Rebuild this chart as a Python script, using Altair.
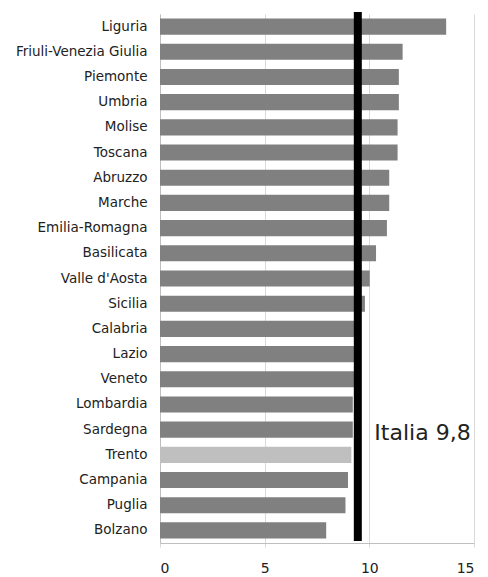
import altair as alt
import pandas as pd

regions = ["Liguria", "Friuli-Venezia Giulia", "Piemonte", "Umbria", "Molise", "Toscana",
           "Abruzzo", "Marche", "Emilia-Romagna", "Basilicata", "Valle d'Aosta", "Sicilia",
           "Calabria", "Lazio", "Veneto", "Lombardia", "Sardegna", "Trento", "Campania",
           "Puglia", "Bolzano"]
values = [13.67, 11.59, 11.41, 11.41, 11.35, 11.35, 10.95, 10.95, 10.84, 10.32, 10.02, 9.79,
          9.5, 9.45, 9.4, 9.21, 9.21, 9.14, 8.98, 8.86, 7.94]
highlight = ["Trento"]
italia_pos = 9.45
italia_label = "Italia 9,8"
x_ticks = [0, 5, 10, 15]

df = pd.DataFrame({
    "regione": regions,
    "valore": values,
    "tipo": ["evidenza" if r in highlight else "altro" for r in regions],
})

yscale = alt.Scale(domain=regions, paddingInner=0.36, paddingOuter=0.18)
xscale = alt.Scale(domain=[0, 15], nice=False)

bars = alt.Chart(df).mark_bar().encode(
    y=alt.Y("regione:N", scale=yscale, sort=regions, title=None,
            axis=alt.Axis(domain=True, domainColor="#bfbfbf", ticks=False, labelPadding=13,
                          labelFont="DejaVu Sans", labelFontSize=13.5, labelColor="#222222", grid=False)),
    x=alt.X("valore:Q", scale=xscale, title=None,
            axis=alt.Axis(values=x_ticks, grid=True, gridColor="#d9d9d9", domainColor="#bfbfbf",
                          tickColor="#d9d9d9", tickSize=4, labelPadding=14, labelFont="DejaVu Sans",
                          labelFontSize=14, labelColor="#222222")),
    color=alt.Color("tipo:N", scale=alt.Scale(domain=["altro", "evidenza"],
                                              range=["#808080", "#bfbfbf"]), legend=None),
)

rule_df = pd.DataFrame({"x": [italia_pos]})
rule = alt.Chart(rule_df).mark_rule(color="black", strokeWidth=8).encode(
    x=alt.X("x:Q", scale=xscale),
    y=alt.value(-2),
    y2=alt.value(527),
)

text_df = pd.DataFrame({"x": [10.24], "regione": ["Sardegna"], "t": [italia_label]})
text = alt.Chart(text_df).mark_text(align="left", baseline="middle", font="DejaVu Sans", fontSize=22,
                                    color="#222222", dy=3).encode(
    x=alt.X("x:Q", scale=xscale),
    y=alt.Y("regione:N", scale=yscale, sort=regions),
    text="t:N",
)

chart = alt.layer(bars, rule, text).properties(
    width=314, height=529,
    padding={"left": 160, "top": 14, "right": 14, "bottom": 34},
    autosize=alt.AutoSizeParams(type="none"),
    background="white",
).configure_view(stroke=None)

chart.save("out.html", embed_options={"renderer": "svg", "actions": False})
